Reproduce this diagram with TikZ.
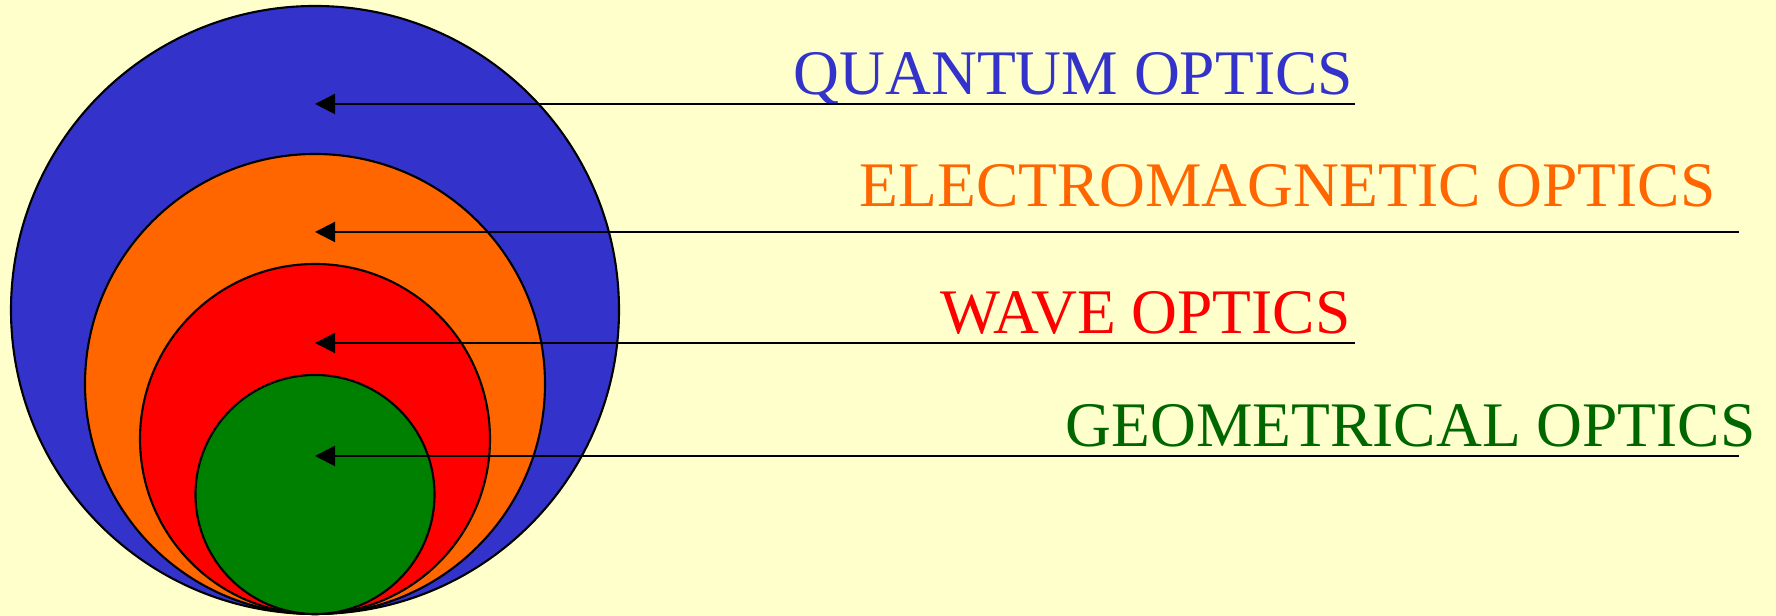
\documentclass[tikz,border=0pt]{standalone}
\usepackage{fontspec}
\setmainfont{Liberation Serif}
\usetikzlibrary{arrows.meta, positioning}
\definecolor{oBack}{HTML}{FFFFCC}
\definecolor{oBlue}{HTML}{3333CC}
\definecolor{oOrange}{HTML}{FF6600}
\definecolor{oRed}{HTML}{FF0000}
\definecolor{oGreen}{HTML}{008000}
\definecolor{oGreenText}{HTML}{006600}

\begin{document}
\begin{tikzpicture}[
  disc/.style={draw=black, line width=0.6pt, fill=#1},
  arr/.style={-{Triangle[length=0.2cm, width=0.2cm]}, line width=0.6pt, black},
  lab/.style={font=\fontsize{18.07}{21}\selectfont, text=#1, anchor=base west, inner sep=0pt}]
  \fill[oBack] (0,0) rectangle (17.76,6.16);
  % nested discs, all touching at the bottom
  \foreach \r/\c in {3.04/oBlue, 2.30/oOrange, 1.75/oRed, 1.195/oGreen}
    \draw[disc=\c] (3.15,{0.02+\r}) circle (\r);
  \node[lab=oBlue] (qo) at (7.93,5.21) {QUANTUM OPTICS};
  \node[lab=oOrange] (em) at (8.59,4.09) {ELECTROMAGNETIC OPTICS};
  \node[lab=oRed] (wo) at (9.40,2.82) {WAVE OPTICS};
  \node[lab=oGreenText] (go) at (10.65,1.69) {GEOMETRICAL OPTICS};
  \foreach \n/\y/\xr in {qo/5.12/13.55, em/3.84/17.39, wo/2.73/13.55, go/1.60/17.39} {
    \coordinate (\n-end) at (\xr,\y);
    \coordinate (\n-tip) at (3.15,\y);
    \draw[arr] (\n-end) -- (\n-tip);
  }
\end{tikzpicture}
\end{document}
